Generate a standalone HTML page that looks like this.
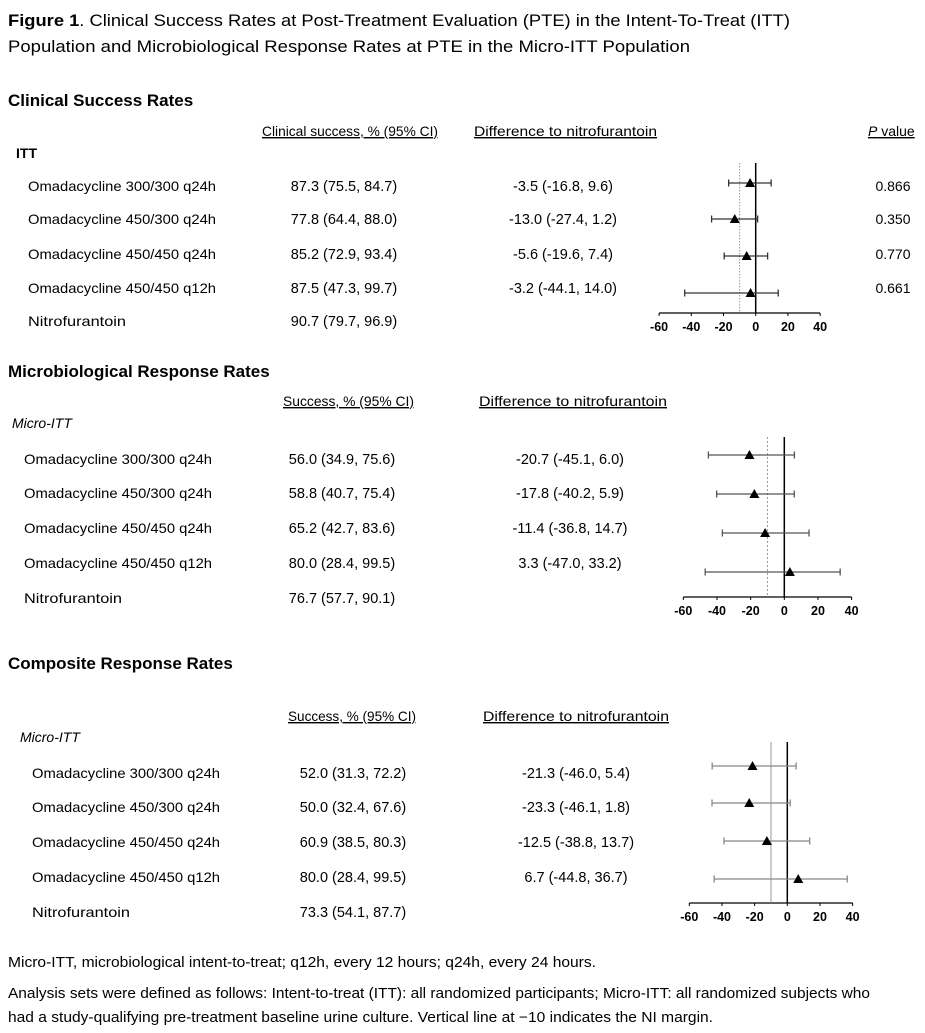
<!DOCTYPE html>
<html><head><meta charset="utf-8"><style>
html,body{margin:0;padding:0;background:#fff}
svg{display:block;font-family:"Liberation Sans",sans-serif}
</style></head><body>
<svg id="fig" width="925" height="1033" xmlns="http://www.w3.org/2000/svg">
<g font-size="16.5" fill="#000">
<text x="8" y="26" textLength="782" lengthAdjust="spacingAndGlyphs"><tspan font-weight="bold">Figure 1</tspan>.  Clinical Success Rates at Post-Treatment Evaluation (PTE) in the Intent-To-Treat (ITT)</text>
<text x="8" y="52" textLength="682" lengthAdjust="spacingAndGlyphs">Population and Microbiological Response Rates at PTE in the Micro-ITT Population</text>
</g>
<g id="tables" font-size="14" fill="#000"></g>
<g id="plots"></g>
<g font-size="14.5" fill="#000">
<text x="8" y="967" textLength="588" lengthAdjust="spacingAndGlyphs">Micro-ITT, microbiological intent-to-treat; q12h, every 12 hours; q24h, every 24 hours.</text>
<text x="8" y="998" textLength="862" lengthAdjust="spacingAndGlyphs">Analysis sets were defined as follows: Intent-to-treat (ITT): all randomized participants; Micro-ITT: all randomized subjects who</text>
<text x="8" y="1022" textLength="705" lengthAdjust="spacingAndGlyphs">had a study-qualifying pre-treatment baseline urine culture. Vertical line at −10 indicates the NI margin.</text>
</g>
</svg>
<script>
const rowLabels=["Omadacycline 300/300 q24h","Omadacycline 450/300 q24h","Omadacycline 450/450 q24h","Omadacycline 450/450 q12h","Nitrofurantoin"];
const clinVals=["87.3 (75.5, 84.7)","77.8 (64.4, 88.0)","85.2 (72.9, 93.4)","87.5 (47.3, 99.7)","90.7 (79.7, 96.9)"];
const clinDiffs=["-3.5 (-16.8, 9.6)","-13.0 (-27.4, 1.2)","-5.6 (-19.6, 7.4)","-3.2 (-44.1, 14.0)"];
const clinP=["0.866","0.350","0.770","0.661"];
const microVals=["56.0 (34.9, 75.6)","58.8 (40.7, 75.4)","65.2 (42.7, 83.6)","80.0 (28.4, 99.5)","76.7 (57.7, 90.1)"];
const microDiffs=["-20.7 (-45.1, 6.0)","-17.8 (-40.2, 5.9)","-11.4 (-36.8, 14.7)","3.3 (-47.0, 33.2)"];
const compVals=["52.0 (31.3, 72.2)","50.0 (32.4, 67.6)","60.9 (38.5, 80.3)","80.0 (28.4, 99.5)","73.3 (54.1, 87.7)"];
const compDiffs=["-21.3 (-46.0, 5.4)","-23.3 (-46.1, 1.8)","-12.5 (-38.8, 13.7)","6.7 (-44.8, 36.7)"];
const clinEst=[-3.5,-13.0,-5.6,-3.2],clinLo=[-16.8,-27.4,-19.6,-44.1],clinHi=[9.6,1.2,7.4,14.0];
const microEst=[-20.7,-17.8,-11.4,3.3],microLo=[-45.1,-40.2,-36.8,-47.0],microHi=[6.0,5.9,14.7,33.2];
const compEst=[-21.3,-23.3,-12.5,6.7],compLo=[-46.0,-46.1,-38.8,-44.8],compHi=[5.4,1.8,13.7,36.7];
const ticks=[-60,-40,-20,0,20,40];
const NS="http://www.w3.org/2000/svg";
function mk(parent,tag,attrs,txt){const e=document.createElementNS(NS,tag);for(const k in attrs)e.setAttribute(k,attrs[k]);if(txt!==undefined)e.textContent=txt;parent.appendChild(e);return e;}
const T=document.getElementById('tables');
function txt(x,y,s,anchor,extra){const e=mk(T,'text',Object.assign({x:x,y:y,'text-anchor':anchor||'start'},extra||{}),s);return e;}
function section(cfg){
  let e=txt(8,cfg.titleY,cfg.title,'start',{'font-size':'17','font-weight':'bold'});
  
  
  e=txt(cfg.h1x,cfg.hy,cfg.h1,'start',{'text-decoration':'underline',textLength:cfg.h1w,lengthAdjust:'spacingAndGlyphs'});
  
  
  e=txt(cfg.h2x,cfg.hy,'Difference to nitrofurantoin','start',{'text-decoration':'underline',textLength:cfg.h2w,lengthAdjust:'spacingAndGlyphs'});
  
  
  e=txt(cfg.popX,cfg.popY,cfg.pop,'start',cfg.popStyle);
  
  
  for(let i=0;i<5;i++){
    const y=cfg.rows[i]+5;
    e=txt(cfg.labX,y,rowLabels[i],'start',i<4?{textLength:188,lengthAdjust:'spacingAndGlyphs'}:{textLength:98,lengthAdjust:'spacingAndGlyphs'});
    
    
    e=txt(cfg.valC,y,cfg.vals[i],'middle',{'font-size':'14.5'});
    
    
    if(i<4){
      e=txt(cfg.diffC,y,cfg.diffs[i],'middle',{'font-size':'14.5'});
      
      
      if(cfg.p){e=txt(893,y,cfg.p[i],'middle');
        
        }
    }
  }
}
section({title:'Clinical Success Rates',titleY:106,h1:'Clinical success, % (95% CI)',h1x:262,h1w:176,h2x:474,h2w:183,hy:136,pop:'ITT',popX:16,popY:158,popStyle:{'font-weight':'bold'},labX:28,valC:344,diffC:563,rows:[186,219,254,288,321],vals:clinVals,diffs:clinDiffs,p:clinP});
let pe=mk(T,'text',{x:868,y:136,'text-decoration':'underline'});
pe.innerHTML='<tspan font-style="italic">P</tspan> value';


section({title:'Microbiological Response Rates',titleY:377,h1:'Success, % (95% CI)',h1x:283,h1w:131,h2x:479,h2w:188,hy:406,pop:'Micro-ITT',popX:12,popY:428,popStyle:{'font-style':'italic'},labX:24,valC:342,diffC:570,rows:[459,493,528,563,598],vals:microVals,diffs:microDiffs});
section({title:'Composite Response Rates',titleY:669,h1:'Success, % (95% CI)',h1x:288,h1w:128,h2x:483,h2w:186,hy:721,pop:'Micro-ITT',popX:20,popY:742,popStyle:{'font-style':'italic'},labX:32,valC:353,diffC:576,rows:[773,807,842,877,912],vals:compVals,diffs:compDiffs});

const P=document.getElementById('plots');
function forest(c){
  const g=mk(P,'g',{});
  
  
  const sx=v=>c.x0+v*c.k;
  let a=mk(g,'line',{x1:sx(-60),x2:sx(40),y1:c.axisY,y2:c.axisY,stroke:'#000','stroke-width':1.3});
  
  
  ticks.forEach(t=>{
    mk(g,'line',{x1:sx(t),x2:sx(t),y1:c.axisY,y2:c.axisY+3,stroke:'#000'});
    const l=mk(g,'text',{x:sx(t),y:c.axisY+18,'text-anchor':'middle','font-size':'12.5','font-weight':'bold'},String(t));
    
    
  });
  let z=mk(g,'line',{x1:sx(0),x2:sx(0),y1:c.top,y2:c.axisY,stroke:'#000','stroke-width':1.5});
  
  
  let ni=mk(g,'line',{x1:sx(-10),x2:sx(-10),y1:c.top,y2:c.axisY,stroke:'#999','stroke-width':1,'stroke-dasharray':c.dash});
  
  
  for(let i=0;i<c.est.length;i++){
    const y=c.rows[i];
    const bar=mk(g,'g',{stroke:c.col,'stroke-width':1.3});
    
    
    mk(bar,'line',{x1:sx(c.lo[i]),x2:sx(c.hi[i]),y1:y,y2:y});
    mk(bar,'line',{x1:sx(c.lo[i]),x2:sx(c.lo[i]),y1:y-3.5,y2:y+3.5});
    mk(bar,'line',{x1:sx(c.hi[i]),x2:sx(c.hi[i]),y1:y-3.5,y2:y+3.5});
    const x=sx(c.est[i]);
    const m=mk(g,'polygon',{points:`${x},${y-5} ${x-5},${y+4} ${x+5},${y+4}`,fill:'#000'});
    
    
  }
}
forest({name:'clinical-forest-plot',x0:755.7,k:1.61,axisY:313,top:163,rows:[183,219,256,293],est:clinEst,lo:clinLo,hi:clinHi,col:'#333',dash:'1.5,1.5'});
forest({name:'microbiological-forest-plot',x0:784.3,k:1.683,axisY:597,top:437,rows:[455,494,533,572],est:microEst,lo:microLo,hi:microHi,col:'#555',dash:'2,2'});
forest({name:'composite-forest-plot',x0:787.3,k:1.633,axisY:903,top:742,rows:[766,803,841,879],est:compEst,lo:compLo,hi:compHi,col:'#888',dash:'none'});
</script>
</body></html>
